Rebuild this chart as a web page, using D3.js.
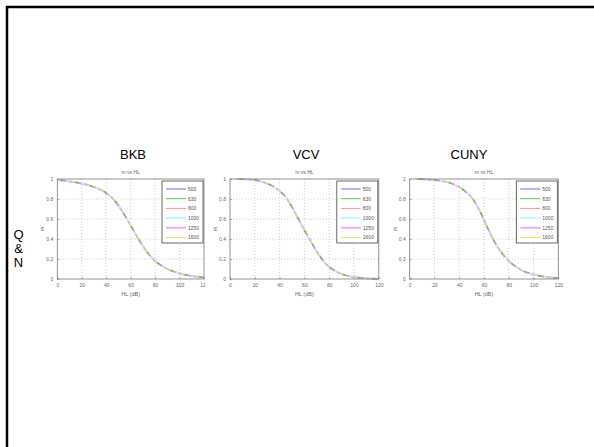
<!DOCTYPE html>
<html lang="en">
<head>
<meta charset="utf-8">
<script src="https://d3js.org/d3.v7.min.js"></script>
<style type="text/css">
  body { margin: 0; background: #ffffff; }
  svg { display: block; font-family: "Liberation Sans", Arial, sans-serif; }
  .tick text { fill: #666; font-size: 5px; }
  .tick line { stroke: #777; stroke-width: 0.6; }
  .domain { stroke: none; }
</style>
</head>
<body>
<script type="text/javascript">

// values
var series = ["500", "630", "800", "1000", "1250", "1600"];
var xTicks = [0, 20, 40, 60, 80, 100, 120];
var yTicks = [0, 0.2, 0.4, 0.6, 0.8, 1];

var hlBKB = [0, 5, 10, 20, 30, 40, 45, 50, 55, 60, 65, 70, 75, 80, 85, 90, 100, 110, 120];
var mBKB  = [0.99, 0.985, 0.975, 0.955, 0.92, 0.86, 0.81, 0.735, 0.64, 0.535, 0.43, 0.33, 0.245, 0.18, 0.135, 0.10, 0.057, 0.03, 0.017];

var hlVCV = [5, 10, 20, 30, 35, 40, 45, 50, 55, 60, 65, 70, 75, 80, 85, 90, 100, 110, 120];
var mVCV  = [1.0, 0.998, 0.99, 0.955, 0.925, 0.88, 0.82, 0.72, 0.605, 0.49, 0.38, 0.275, 0.185, 0.12, 0.08, 0.05, 0.02, 0.007, 0.002];

var hlCUNY = [5, 10, 20, 30, 35, 40, 45, 50, 55, 60, 65, 70, 75, 80, 85, 90, 100, 110, 120];
var mCUNY  = [1.0, 0.998, 0.99, 0.97, 0.95, 0.92, 0.875, 0.815, 0.72, 0.59, 0.455, 0.34, 0.25, 0.18, 0.13, 0.09, 0.045, 0.02, 0.01];

var colors = ["#b4b4ff", "#5cc65c", "#ff8c8c", "#bff8f8", "#f7a8f7", "#e6e65a"];
var widths = [2, 1, 1, 2, 2, 1];

var panels = [
  {title: "BKB",  hl: hlBKB,  m: mBKB,  left: 57.3, right: 204,   titleX: 133, clip: 205.5},
  {title: "VCV",  hl: hlVCV,  m: mVCV,  left: 230,  right: 378.8, titleX: 306, clip: null},
  {title: "CUNY", hl: hlCUNY, m: mCUNY, left: 409.7, right: 558.3, titleX: 469, clip: null}
];
var plotTop = 179, plotBottom = 279;

var svg = d3.select("body").append("svg")
    .attr("width", 594)
    .attr("height", 447);

// slide border (top and left edges only)
svg.append("line").attr("x1", 6).attr("x2", 594).attr("y1", 7).attr("y2", 7)
    .attr("stroke", "#000").attr("stroke-width", 2.5);
svg.append("line").attr("x1", 7).attr("x2", 7).attr("y1", 6).attr("y2", 447)
    .attr("stroke", "#000").attr("stroke-width", 2.5);

// Q & N
["Q", "&", "N"].forEach(function(t, i) {
  svg.append("text").attr("x", 18.5).attr("y", 239 + i * 13.8)
      .attr("text-anchor", "middle").attr("font-size", 13).text(t);
});

panels.forEach(function(p, pi) {
  var x = d3.scaleLinear().domain([0, 120]).range([p.left, p.right]);
  var y = d3.scaleLinear().domain([0, 1]).range([plotBottom, plotTop]);

  var g = svg.append("g");
  if (p.clip) {
    svg.append("clipPath").attr("id", "clip" + pi)
      .append("rect").attr("x", 0).attr("y", 0).attr("width", p.clip).attr("height", 447);
    g.attr("clip-path", "url(#clip" + pi + ")");
  }

  svg.append("text").attr("x", p.titleX).attr("y", 159)
      .attr("text-anchor", "middle").attr("font-size", 13).text(p.title);

  // grid
  g.selectAll(".gx").data(xTicks.slice(1, -1)).enter().append("line")
      .attr("x1", function(d) { return x(d); }).attr("x2", function(d) { return x(d); })
      .attr("y1", plotTop).attr("y2", plotBottom)
      .attr("stroke", "#aaa").attr("stroke-width", 0.6).attr("stroke-dasharray", "1,2");
  g.selectAll(".gy").data(yTicks.slice(1, -1)).enter().append("line")
      .attr("y1", function(d) { return y(d); }).attr("y2", function(d) { return y(d); })
      .attr("x1", p.left).attr("x2", p.right)
      .attr("stroke", "#aaa").attr("stroke-width", 0.6).attr("stroke-dasharray", "1,2");

  // axes
  g.append("g").attr("transform", "translate(0," + plotBottom + ")")
      .call(d3.axisBottom(x).tickValues(xTicks).tickSizeInner(-2).tickSizeOuter(0).tickPadding(4));
  g.append("g").attr("transform", "translate(" + p.left + ",0)")
      .call(d3.axisLeft(y).tickValues(yTicks).tickFormat(d3.format("~g")).tickSizeInner(-2).tickSizeOuter(0).tickPadding(4));

  // curves
  var line = d3.line()
      .x(function(d) { return x(d[0]); })
      .y(function(d) { return y(d[1]); })
      .curve(d3.curveMonotoneX);
  var pts = p.hl.map(function(h, i) { return [h, p.m[i]]; });
  series.forEach(function(s, si) {
    g.append("path").datum(pts)
        .attr("d", line)
        .attr("fill", "none")
        .attr("stroke", colors[si])
        .attr("stroke-width", si === 0 ? 1.8 : 1.5)
        .attr("stroke-dasharray", si === 0 ? null : "3,12")
        .attr("stroke-dashoffset", -si * 3);
  });

  // box
  g.append("rect").attr("x", p.left).attr("y", plotTop)
      .attr("width", p.right - p.left).attr("height", plotBottom - plotTop)
      .attr("fill", "none").attr("stroke", "#777").attr("stroke-width", 0.8);

  // labels
  g.append("text").attr("x", (p.left + p.right) / 2).attr("y", 174)
      .attr("text-anchor", "middle").attr("font-size", 5).attr("fill", "#666").text("m vs HL");
  g.append("text").attr("x", (p.left + p.right) / 2).attr("y", 296)
      .attr("text-anchor", "middle").attr("font-size", 5.5).attr("fill", "#666").text("HL (dB)");
  g.append("text").attr("transform", "translate(" + (p.left - 13) + "," + ((plotTop + plotBottom) / 2) + ") rotate(-90)")
      .attr("text-anchor", "middle").attr("font-size", 5.5).attr("fill", "#666").text("m");

  // legend
  var lx = p.right - 42, ly = plotTop + 2;
  g.append("rect").attr("x", lx).attr("y", ly).attr("width", 41).attr("height", 62)
      .attr("fill", "#fff").attr("stroke", "#444").attr("stroke-width", 0.8);
  series.forEach(function(s, si) {
    var yy = ly + 8 + si * 9.7;
    g.append("line").attr("x1", lx + 4).attr("x2", lx + 24).attr("y1", yy).attr("y2", yy)
        .attr("stroke", colors[si]).attr("stroke-width", widths[si]);
    g.append("text").attr("x", lx + 26).attr("y", yy + 1.8)
        .attr("font-size", 5).attr("fill", "#555").text(s);
  });
});

</script>
</body>
</html>
